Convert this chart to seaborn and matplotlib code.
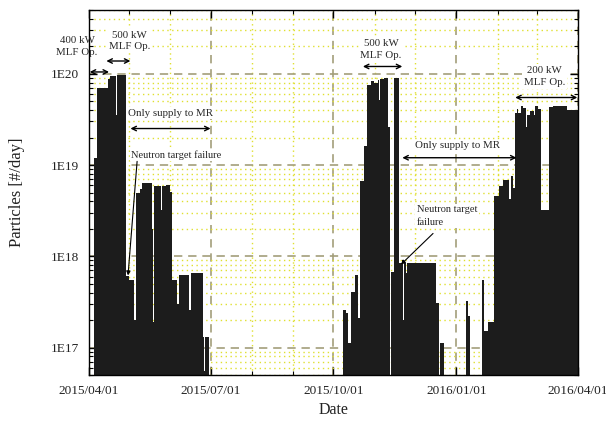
import numpy as np
import pandas as pd
import matplotlib
matplotlib.use("Agg")
import matplotlib.pyplot as plt
import matplotlib.dates as mdates
import matplotlib.ticker as mticker
import seaborn as sns

# ---------------- data ----------------
origin = "2015-04-01"
# start day (offset from origin), length in days, particles per day
run_start_day = [4, 6, 14, 16, 20, 21, 28, 30, 34, 35, 38, 40, 47, 48, 49, 54, 55, 58, 61,
                 62, 66, 67, 75, 76, 85, 86, 87,
                 190, 192, 194, 196, 199, 201, 203, 206, 208, 211, 213, 216, 217, 218, 221,
                 224, 226, 228, 232, 234, 235, 236, 237, 238, 260, 263,
                 282, 284, 294, 296, 299, 303, 307, 310, 314, 316, 317, 319, 320, 321, 323,
                 325, 327, 328, 330, 333, 334, 336, 338, 344, 347, 358]
run_days = [2, 8, 2, 4, 1, 7, 2, 4, 1, 3, 2, 7, 1, 1, 5, 1, 3, 3, 1,
            4, 1, 8, 1, 9, 1, 1, 3,
            2, 2, 2, 3, 2, 2, 3, 2, 3, 2, 3, 1, 1, 3, 3,
            1, 2, 4, 2, 1, 1, 1, 1, 22, 2, 3,
            2, 1, 2, 3, 4, 4, 3, 4, 2, 1, 2, 1, 1, 2, 2,
            2, 1, 2, 3, 1, 2, 2, 6, 3, 11, 8]
run_value = [1.2e19, 7.0e19, 8.7e19, 9.5e19, 3.5e19, 9.6e19, 6.0e17, 5.5e17, 2.0e17, 4.9e18,
             5.4e18, 6.3e18, 2.0e18, 1.9e17, 5.9e18, 3.2e18, 5.9e18, 6.1e18, 5.0e18,
             5.5e17, 3.0e17, 6.2e17, 2.6e17, 6.6e17, 1.3e17, 5.5e16, 1.3e17,
             2.6e17, 2.4e17, 1.1e17, 4.0e17, 6.3e17, 2.1e17, 6.6e18, 1.6e19, 7.6e19, 8.3e19,
             8.0e19, 8.6e19, 5.2e19, 8.7e19, 8.9e19,
             2.6e19, 6.8e17, 8.9e19, 8.5e17, 9.0e17, 2.0e17, 8.5e17, 6.6e17, 8.5e17, 3.1e17, 1.1e17,
             3.2e17, 2.2e17, 5.5e17, 1.5e17, 1.9e17, 4.6e18, 5.9e18, 6.8e18, 4.2e18, 7.6e18,
             5.6e18, 3.7e19, 4.1e19, 3.7e19, 4.4e19,
             4.2e19, 2.6e19, 3.5e19, 3.9e19, 3.5e19, 4.4e19, 4.1e19, 3.2e18, 4.3e19, 4.4e19, 4.0e19]

x_tick_dates = ["2015-04-01", "2015-07-01", "2015-10-01", "2016-01-01", "2016-04-01"]
x_tick_labels = ["2015/04/01", "2015/07/01", "2015/10/01", "2016/01/01", "2016/04/01"]
y_ticks = [1e17, 1e18, 1e19, 1e20]
y_tick_labels = ["1E17", "1E18", "1E19", "1E20"]

# ---------------- style ----------------
sns.set_theme(style="ticks")
plt.rcParams['font.family'] = ['Liberation Serif', 'DejaVu Serif']

fig = plt.figure(figsize=(6.06, 4.21), dpi=100)
ax = fig.add_axes([89 / 606, 1 - 375 / 421, (578 - 89) / 606, (375 - 10) / 421])

df = pd.DataFrame({"start_day": run_start_day, "days": run_days, "value": run_value})
df["start"] = pd.Timestamp(origin) + pd.to_timedelta(df["start_day"], unit="D")

ax.set_yscale("log")
ax.bar(mdates.date2num(df["start"]), df["value"], width=df["days"], align="edge",
       bottom=1e15, color="#1c1c1c", linewidth=0, zorder=3)

ax.set_ylim(5e16, 5e20)
ax.set_xlim(mdates.date2num(pd.Timestamp("2015-04-01")), mdates.date2num(pd.Timestamp("2016-04-01")))

ax.xaxis.set_major_locator(mticker.FixedLocator(mdates.date2num(pd.to_datetime(x_tick_dates))))
ax.xaxis.set_major_formatter(mticker.FixedFormatter(x_tick_labels))
ax.xaxis.set_minor_locator(mdates.MonthLocator())
ax.yaxis.set_major_locator(mticker.FixedLocator(y_ticks))
ax.yaxis.set_major_formatter(mticker.FixedFormatter(y_tick_labels))
ax.yaxis.set_minor_locator(mticker.LogLocator(base=10, subs=np.arange(2, 10), numticks=20))
ax.yaxis.set_minor_formatter(mticker.NullFormatter())

ax.set_axisbelow(True)
ax.grid(which="minor", linestyle=(0, (1, 2.5)), color="#e0e030", linewidth=1.0, zorder=0)
ax.grid(which="major", linestyle=(0, (5, 3.5)), color="#a39e7a", linewidth=1.2, zorder=1)

ax.tick_params(which="both", direction="in", top=True, right=True, color="black",
               labelsize=9.5, labelcolor="#222222")
ax.tick_params(which="major", length=6, width=1, pad=7)
ax.tick_params(which="minor", length=3, width=0.8)
for s in ax.spines.values():
    s.set_color("black")
    s.set_linewidth(1.0)
    s.set_zorder(5)

ax.set_xlabel("Date", fontsize=11.5, color="#222222", labelpad=4)
ax.set_ylabel("Particles [#/day]", fontsize=12, color="#222222", labelpad=19)

# ---------------- annotations ----------------
def d(day):
    return mdates.date2num(pd.Timestamp(origin) + pd.Timedelta(days=day))

fs = 7.8
box = dict(boxstyle="square,pad=0.15", fc="white", ec="none")
arr = dict(arrowstyle="<->", color="black", lw=1.0, shrinkA=0, shrinkB=0,
           mutation_scale=8)

def dbl(x0, x1, y):
    ax.annotate("", xy=(d(x0), y), xytext=(d(x1), y), arrowprops=arr,
                annotation_clip=False, zorder=6)

ax.text(d(-9), 10 ** 20.30, "400 kW\nMLF Op.", fontsize=fs, ha="center", va="center",
        linespacing=1.4, clip_on=False, zorder=6)
dbl(0.5, 15, 10 ** 20.02)
ax.text(d(30.5), 10 ** 20.36, "500 kW\nMLF Op.", fontsize=fs, ha="center", va="center",
        linespacing=1.4, bbox=box, zorder=6)
dbl(13, 31, 10 ** 20.14)
ax.text(d(61), 10 ** 19.57, "Only supply to MR", fontsize=fs, ha="center", va="center",
        bbox=box, zorder=6)
dbl(31, 91, 10 ** 19.40)
ax.text(d(31.5), 10 ** 19.11, "Neutron target failure", fontsize=7.5, ha="left", va="center",
        bbox=box, zorder=6)
ax.annotate("", xy=(d(29.2), 10 ** 17.79), xytext=(d(36), 10 ** 19.04),
            arrowprops=dict(arrowstyle="-|>", color="black", lw=0.8, shrinkA=0, shrinkB=0,
                            mutation_scale=6), zorder=6)

ax.text(d(218.5), 10 ** 20.27, "500 kW\nMLF Op.", fontsize=fs, ha="center", va="center",
        linespacing=1.4, bbox=box, zorder=6)
dbl(205, 234.5, 10 ** 20.08)
ax.text(d(276), 10 ** 19.21, "Only supply to MR", fontsize=fs, ha="center", va="center",
        bbox=box, zorder=6)
dbl(234.5, 320, 10 ** 19.08)
ax.text(d(245.5), 10 ** 18.44, "Neutron target\nfailure", fontsize=7.5, ha="left", va="center",
        linespacing=1.5, bbox=box, zorder=6)
ax.annotate("", xy=(d(233.5), 10 ** 17.91), xytext=(d(257.5), 10 ** 18.25),
            arrowprops=dict(arrowstyle="-|>", color="black", lw=0.8, shrinkA=0, shrinkB=0,
                            mutation_scale=6), zorder=6)

ax.text(d(341), 10 ** 19.97, "200 kW\nMLF Op.", fontsize=fs, ha="center", va="center",
        linespacing=1.4, bbox=box, zorder=6)
dbl(319, 365.5, 10 ** 19.74)

fig.savefig("out.png", dpi=100)
